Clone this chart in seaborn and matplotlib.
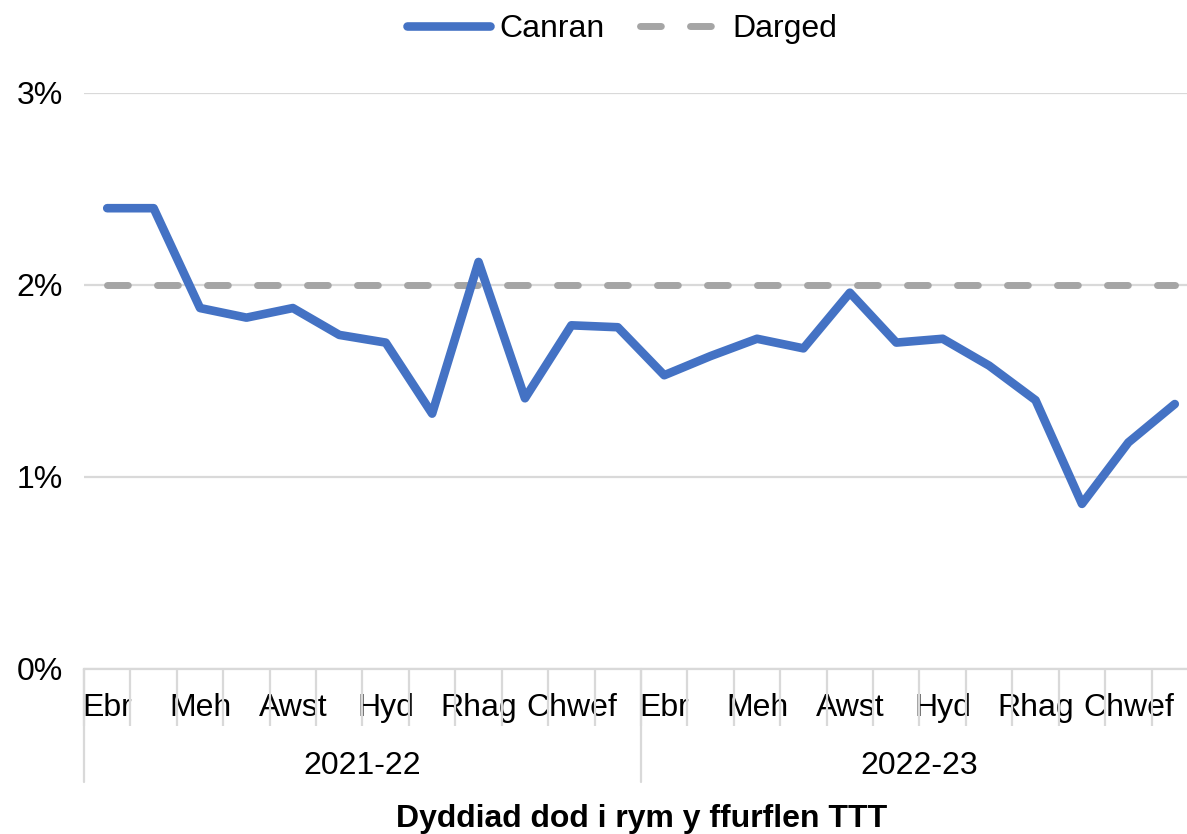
import matplotlib
matplotlib.use("Agg")
import matplotlib.pyplot as plt
import matplotlib.transforms as mtransforms
from matplotlib.lines import Line2D
import seaborn as sns
import pandas as pd
import numpy as np

months = ["Ebr", "Mai", "Meh", "Gorff", "Awst", "Medi", "Hyd", "Tach", "Rhag", "Ion", "Chwef", "Maw"]
month_labels_shown = ["Ebr", "", "Meh", "", "Awst", "", "Hyd", "", "Rhag", "", "Chwef", ""]
years = ["2021-22", "2022-23"]
canran = [2.40, 2.40, 1.88, 1.83, 1.88, 1.74, 1.70, 1.33, 2.12, 1.41, 1.79, 1.78,
          1.53, 1.63, 1.72, 1.67, 1.96, 1.70, 1.72, 1.58, 1.40, 0.86, 1.18, 1.38]
darged = [2.0] * 24

sns.set_theme(style="white")
plt.rcParams['font.family'] = ['Liberation Sans', 'DejaVu Sans']
plt.rcParams['text.color'] = 'black'

n = len(canran)
df = pd.DataFrame({
    "idx": np.arange(n),
    "Canran": canran,
    "Darged": darged,
})

W, H = 1187, 834
fig = plt.figure(figsize=(W / 100, H / 100), dpi=100)
left, right, bottom, top = 84 / W, 1198 / W, 1 - 669 / H, 1 - 93 / H
ax = fig.add_axes([left, bottom, right - left, top - bottom])

blue = "#4472C4"
grey = "#A5A5A5"
gridc = "#D9D9D9"
FS = 23
dash = (0, (3.0, 4.2))

sns.lineplot(data=df, x="idx", y="Darged", ax=ax, color=grey, linewidth=5,
             linestyle=dash, dash_capstyle="round", zorder=3)
sns.lineplot(data=df, x="idx", y="Canran", ax=ax, color=blue, linewidth=6.2,
             solid_capstyle="round", solid_joinstyle="round", zorder=4)

ax.set_xlim(-0.5, n - 0.5)
ax.set_ylim(0, 3)
ax.set_yticks([0, 1, 2, 3])
ax.set_yticklabels(["0%", "1%", "2%", "3%"])
ax.yaxis.grid(True, color=gridc, linewidth=1.6)
ax.set_axisbelow(True)
for s in ["top", "right", "left"]:
    ax.spines[s].set_visible(False)
ax.spines["bottom"].set_color(gridc)
ax.spines["bottom"].set_linewidth(1.6)
ax.tick_params(axis="y", length=0, pad=15, labelsize=FS, labelcolor="black")

# month ticks
ax.set_xticks(np.arange(n))
ax.set_xticklabels(month_labels_shown * 2)
ax.tick_params(axis="x", which="major", bottom=True, length=0, pad=17,
               labelsize=FS, labelcolor="black")
ax.set_xticks(np.arange(n + 1) - 0.5, minor=True)
ax.tick_params(axis="x", which="minor", bottom=True, length=41, width=1.6, color=gridc)
ax.set_xlabel("")
ax.set_ylabel("")

# group boundaries and year labels
trans = mtransforms.blended_transform_factory(ax.transData, ax.transAxes)
axh_px = 669 - 93
y_long = -(782 - 669) / axh_px
for b in [-0.5, 11.5, 23.5]:
    ax.add_line(Line2D([b, b], [0, y_long], transform=trans, color=gridc,
                       linewidth=1.6, clip_on=False))
for i, yr in enumerate(years):
    ax.text(i * 12 + 5.5, -(766 - 669) / axh_px, yr, transform=trans,
            ha="center", va="center", fontsize=FS, color="black")

fig.text(642 / W, 1 - 819 / H, "Dyddiad dod i rym y ffurflen TTT",
         ha="center", va="center", fontsize=FS, fontweight="bold", color="black")

handles = [Line2D([], [], color=blue, linewidth=6.2, solid_capstyle="round"),
           Line2D([], [], color=grey, linewidth=5, linestyle=dash,
                  dash_capstyle="round")]
fig.legend(handles, ["Canran", "Darged"], loc="center", bbox_to_anchor=(622 / W, 1 - 29 / H),
           ncol=2, frameon=False, fontsize=FS, handlelength=2.6, handletextpad=0.3,
           columnspacing=1.1, labelcolor="black")

fig.savefig("out.png", dpi=100)
